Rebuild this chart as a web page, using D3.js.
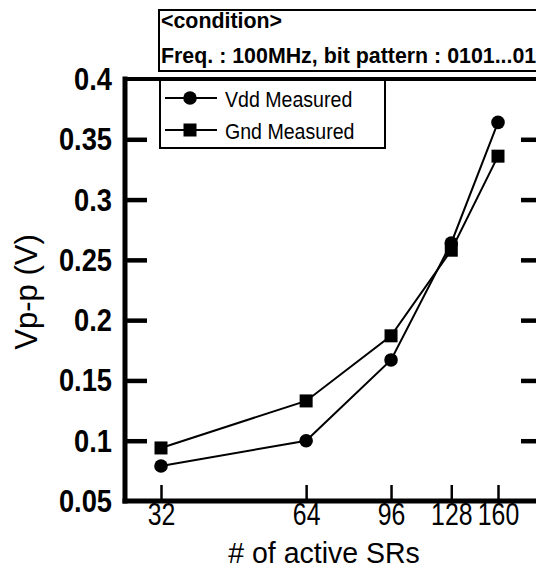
<!DOCTYPE html>
<html>
<head>
<meta charset="utf-8">
<script src="https://cdn.jsdelivr.net/npm/d3@7"></script>
<style>
  html, body { margin: 0; padding: 0; background: #fff; }
  svg { display: block; font-family: "Liberation Sans", Arial, sans-serif; }
</style>
</head>
<body>
<svg id="chart" width="536" height="568"></svg>
<script>
// Number of active shift registers and measured peak-to-peak noise
const activeSRs = [32, 64, 96, 128, 160];
const vddMeasured = [0.079, 0.100, 0.167, 0.264, 0.364];
const gndMeasured = [0.094, 0.133, 0.187, 0.258, 0.336];
const yTicks = [0.05, 0.1, 0.15, 0.2, 0.25, 0.3, 0.35, 0.4];
const yTickLabels = ["0.05", "0.1", "0.15", "0.2", "0.25", "0.3", "0.35", "0.4"];
const seriesNames = ["Vdd Measured", "Gnd Measured"];
const conditionLines = ["<condition>", "Freq. : 100MHz, bit pattern : 0101...01"];

const svg = d3.select("#chart");

// plot frame
const frame = { left: 125, right: 543, top: 79, bottom: 501 };

const x = d3.scaleLog().domain([32, 160]).range([161, 498]);
const y = d3.scaleLinear().domain([0.05, 0.4]).range([frame.bottom, frame.top]);

// text with a horizontally condensed face
function label(g, px, py, str, opts) {
  const o = Object.assign({ size: 30, weight: "normal", anchor: "start", rotate: 0, sx: 0.92 }, opts || {});
  return g.append("text")
    .attr("transform", `translate(${px},${py}) rotate(${o.rotate}) scale(${o.sx},1)`)
    .attr("font-size", o.size)
    .attr("font-weight", o.weight)
    .attr("text-anchor", o.anchor)
    .attr("fill", "#000")
    .text(str);
}

// condition box
const cond = svg.append("g");
cond.append("rect")
  .attr("x", 159).attr("y", 10).attr("width", 420).attr("height", 61)
  .attr("fill", "#fff").attr("stroke", "#000").attr("stroke-width", 2);
label(cond, 161, 28, conditionLines[0], { size: 23, weight: "bold", sx: 0.93 });
label(cond, 161, 63, conditionLines[1], { size: 23, weight: "bold", sx: 0.93 });

// left axis: inward ticks and bold labels
const yLabelScale = 0.88;
const yAxisL = d3.axisLeft(y)
  .tickValues(yTicks)
  .tickSize(-22)
  .tickPadding(13 / yLabelScale)
  .tickFormat((d, i) => yTickLabels[i]);
const gyl = svg.append("g").attr("transform", `translate(${frame.left},0)`).call(yAxisL);
gyl.select(".domain").remove();
gyl.selectAll(".tick line").attr("stroke", "#000").attr("stroke-width", 4.5)
  .filter(d => d === 0.05 || d === 0.4).remove();
gyl.selectAll(".tick text")
  .attr("font-family", "Liberation Sans, Arial, sans-serif")
  .attr("font-size", 31).attr("font-weight", "bold").attr("fill", "#000")
  .attr("dy", "0.34em")
  .attr("transform", `scale(${yLabelScale},1)`);

// right axis: inward ticks only
const yAxisR = d3.axisRight(y).tickValues(yTicks.filter(d => d > 0.05 && d < 0.4)).tickSize(-22).tickFormat("");
const gyr = svg.append("g").attr("transform", `translate(${frame.right},0)`).call(yAxisR);
gyr.select(".domain").remove();
gyr.selectAll(".tick line").attr("stroke", "#000").attr("stroke-width", 4.5);

// bottom axis
const xLabelScale = 0.8;
const xAxis = d3.axisBottom(x)
  .tickValues(activeSRs)
  .tickSize(-16)
  .tickPadding(2)
  .tickFormat(d3.format("d"));
const gx = svg.append("g").attr("transform", `translate(0,${frame.bottom})`).call(xAxis);
gx.select(".domain").remove();
gx.selectAll(".tick line").attr("stroke", "#000").attr("stroke-width", 2.5);
gx.selectAll(".tick text")
  .attr("font-family", "Liberation Sans, Arial, sans-serif")
  .attr("font-size", 31).attr("fill", "#000")
  .attr("transform", `scale(${xLabelScale},1)`);

// frame lines
const fr = svg.append("g").attr("stroke", "#000").attr("stroke-linecap", "square");
fr.append("line").attr("x1", frame.left).attr("x2", frame.right).attr("y1", frame.bottom).attr("y2", frame.bottom).attr("stroke-width", 5);
fr.append("line").attr("x1", frame.left).attr("x2", frame.left).attr("y1", frame.top).attr("y2", frame.bottom).attr("stroke-width", 5);
fr.append("line").attr("x1", frame.right).attr("x2", frame.right).attr("y1", frame.top).attr("y2", frame.bottom).attr("stroke-width", 5);

// axis titles
label(svg, 324, 563, "# of active SRs", { anchor: "middle", sx: 0.95 });
label(svg, 37, 292, "Vp-p (V)", { anchor: "middle", rotate: -90, size: 31, sx: 1 });

// series
const line = d3.line().x(d => x(d[0])).y(d => y(d[1]));
const series = [
  { name: seriesNames[0], values: vddMeasured, shape: "circle" },
  { name: seriesNames[1], values: gndMeasured, shape: "square" }
];

function drawMarker(g, cx, cy, shape) {
  if (shape === "circle") {
    g.append("circle").attr("cx", cx).attr("cy", cy).attr("r", 6.8).attr("fill", "#000");
  } else {
    g.append("rect").attr("x", cx - 6.5).attr("y", cy - 6.5).attr("width", 13).attr("height", 13).attr("fill", "#000");
  }
}

const plot = svg.append("g");
series.forEach(s => {
  const pts = activeSRs.map((n, i) => [n, s.values[i]]);
  plot.append("path").attr("d", line(pts)).attr("fill", "none").attr("stroke", "#000").attr("stroke-width", 2);
  pts.forEach(p => drawMarker(plot, x(p[0]), y(p[1]), s.shape));
});

// legend
const leg = svg.append("g");
leg.append("rect").attr("x", 160).attr("y", frame.top).attr("width", 225).attr("height", 69)
  .attr("fill", "#fff").attr("stroke", "#000").attr("stroke-width", 2);
const rowY = [98, 130];
series.forEach((s, i) => {
  leg.append("line").attr("x1", 165).attr("x2", 217).attr("y1", rowY[i]).attr("y2", rowY[i])
    .attr("stroke", "#000").attr("stroke-width", 2);
  drawMarker(leg, 190, rowY[i], s.shape);
  label(leg, 225, rowY[i] + 9, s.name, { size: 22, sx: 0.89 });
});

// top frame edge drawn last so it sits over the legend border
svg.append("line").attr("x1", frame.left).attr("x2", frame.right).attr("y1", frame.top).attr("y2", frame.top)
  .attr("stroke", "#000").attr("stroke-width", 4).attr("stroke-linecap", "square");
</script>
</body>
</html>
